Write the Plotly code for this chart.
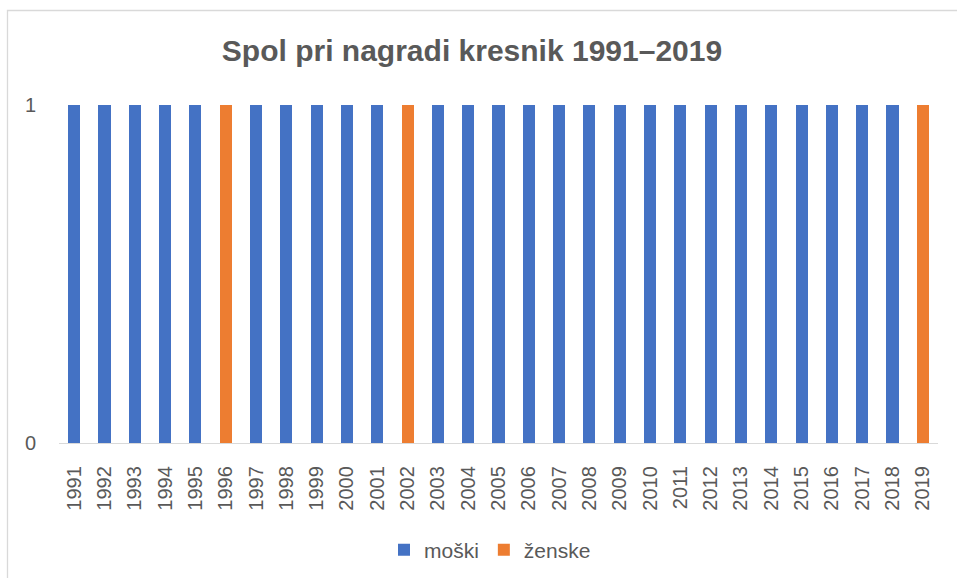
import plotly.graph_objects as go

years = ["1991", "1992", "1993", "1994", "1995", "1996", "1997", "1998", "1999", "2000",
         "2001", "2002", "2003", "2004", "2005", "2006", "2007", "2008", "2009", "2010",
         "2011", "2012", "2013", "2014", "2015", "2016", "2017", "2018", "2019"]
moski = [1, 1, 1, 1, 1, 0, 1, 1, 1, 1,
         1, 0, 1, 1, 1, 1, 1, 1, 1, 1,
         1, 1, 1, 1, 1, 1, 1, 1, 0]
zenske = [0, 0, 0, 0, 0, 1, 0, 0, 0, 0,
          0, 1, 0, 0, 0, 0, 0, 0, 0, 0,
          0, 0, 0, 0, 0, 0, 0, 0, 1]
y_ticks = [0, 1]
title_text = "Spol pri nagradi kresnik 1991–2019"

FONT = "Liberation Sans, Arial, sans-serif"
GRAY = "#595959"
LINE = "#D9D9D9"

fig = go.Figure()
fig.add_trace(go.Bar(x=years, y=moski, name="moški", marker=dict(color="#4472C4", line=dict(width=0))))
fig.add_trace(go.Bar(x=years, y=zenske, name="ženske", marker=dict(color="#ED7D31", line=dict(width=0))))

W, H = 957, 578
ml, mr, mt, mb = 59, 19, 105, 135
pw = W - ml - mr
ph = H - mt - mb

def px_x(p):
    return (p - ml) / pw

def px_y(p):
    return 1 - (p - mt) / ph

fig.update_layout(
    width=W, height=H,
    margin=dict(l=ml, r=mr, t=mt, b=mb, autoexpand=False),
    paper_bgcolor="white", plot_bgcolor="white",
    barmode="stack", bargap=0.6,
    font=dict(family=FONT, color=GRAY, size=20),
    title=dict(text="<b>" + title_text + "</b>", x=472 / W, xanchor="center",
               y=1 - 50 / H, yanchor="middle", xref="container", yref="container",
               font=dict(size=30, color=GRAY, family=FONT)),
    showlegend=True,
    legend=dict(orientation="h", x=px_x(490), xanchor="center", y=px_y(550), yanchor="middle",
                font=dict(size=21, color=GRAY), itemwidth=30, traceorder="normal"),
    xaxis=dict(type="category", tickangle=-90, showgrid=False, showline=True,
               linecolor=LINE, linewidth=1.3, ticks="", ticklabelstandoff=14,
               tickfont=dict(size=20, color=GRAY), automargin=False),
    yaxis=dict(range=[0, 1], tickvals=y_ticks, ticktext=[str(v) for v in y_ticks],
               showgrid=True, gridcolor=LINE, gridwidth=1.3, zeroline=False, showline=False,
               ticks="", ticklabelstandoff=22, tickfont=dict(size=20, color=GRAY), automargin=False),
    shapes=[dict(type="rect", xref="paper", yref="paper",
                 x0=px_x(7.5), x1=px_x(965), y0=px_y(590), y1=px_y(10.5),
                 line=dict(color=LINE, width=1.3), fillcolor="rgba(0,0,0,0)", layer="below")],
)

fig.write_html("out.html", config={"displayModeBar": False},
               post_script="document.body.style.margin='0';")
